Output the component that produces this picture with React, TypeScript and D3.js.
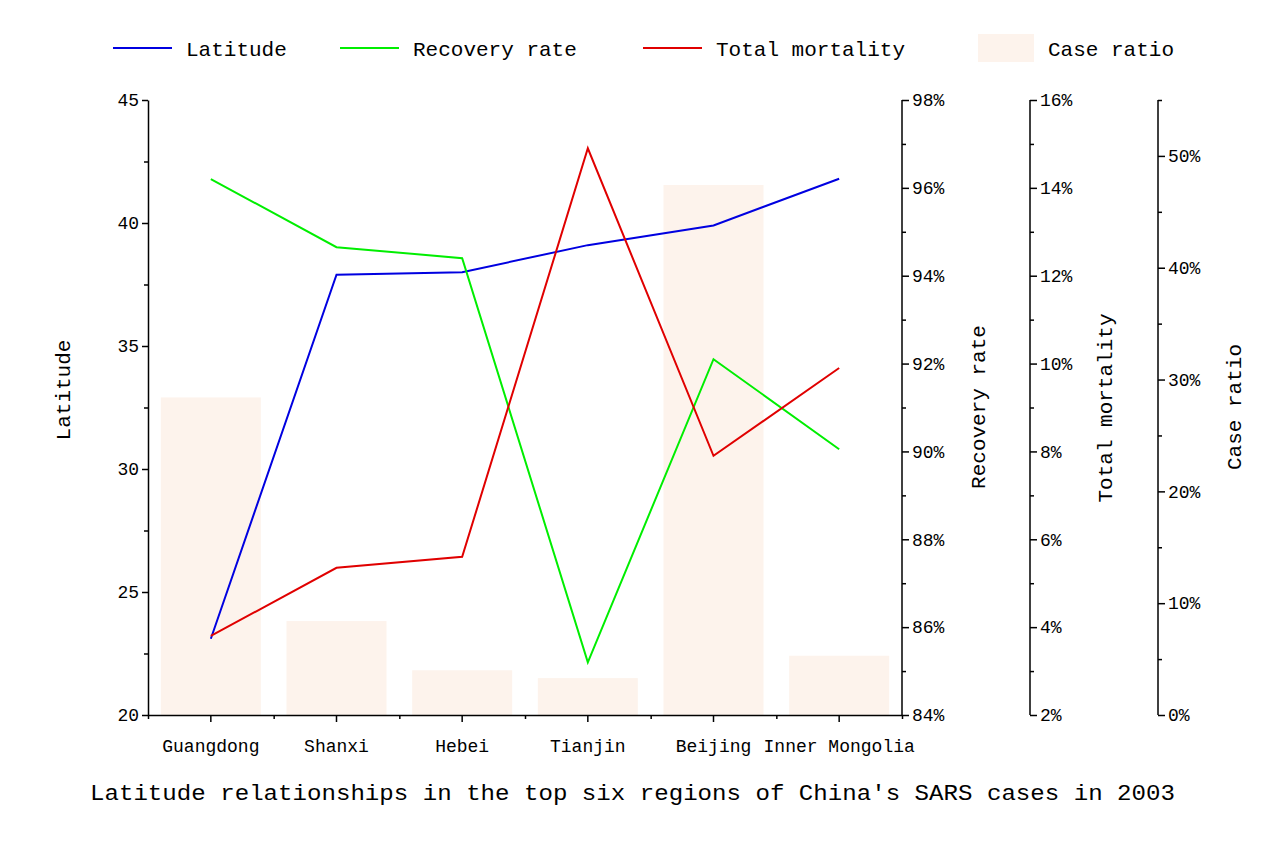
import React, {useEffect, useRef} from "react";
import * as d3 from "d3";

const regions = ["Guangdong", "Shanxi", "Hebei", "Tianjin", "Beijing", "Inner Mongolia"]
const latitude = [23.1, 37.9, 38.0, 39.1, 39.9, 41.8]
const recoveryRate = [96.2, 94.65, 94.4, 85.2, 92.1, 90.05]
const totalMortality = [3.8, 5.35, 5.6, 14.9, 7.9, 9.9]
const caseRatio = [28.4, 8.4, 4.0, 3.3, 47.4, 5.3]

const FONT = "'Liberation Mono', 'DejaVu Sans Mono', monospace"

const App = () => {
    const svgRef = useRef(null)

    useEffect(() => {
        const svg = d3.select(svgRef.current)
        svg.selectAll("*").remove()
        const top = 100, bottom = 715, left = 148, right = 902

        const x = d3.scaleBand().domain(regions).range([left, right])
        const cx = (i: number) => (x(regions[i]) as number) + x.bandwidth() / 2
        const yLat = d3.scaleLinear().domain([20, 45]).range([bottom, top])
        const yRec = d3.scaleLinear().domain([84, 98]).range([bottom, top])
        const yMor = d3.scaleLinear().domain([2, 16]).range([bottom, top])
        const yCase = d3.scaleLinear().domain([0, 55]).range([bottom, top])

        // bars
        svg.append("g").selectAll("rect").data(caseRatio).join("rect")
            .attr("x", (d, i) => cx(i) - 50)
            .attr("width", 100)
            .attr("y", d => yCase(d))
            .attr("height", d => bottom - yCase(d))
            .attr("fill", "#fdf3ec")

        const line = (scale: d3.ScaleLinear<number, number>) => d3.line<number>()
            .x((d, i) => cx(i)).y(d => scale(d))
        const series: [number[], d3.ScaleLinear<number, number>, string][] = [
            [latitude, yLat, "#0000e0"],
            [recoveryRate, yRec, "#00ee00"],
            [totalMortality, yMor, "#e00000"],
        ]
        series.forEach(([data, scale, color]) => {
            svg.append("path").datum(data).attr("d", line(scale) as any)
                .attr("fill", "none").attr("stroke", color).attr("stroke-width", 2)
        })

        const styleAxis = (g: any) => {
            g.selectAll("path,line").attr("stroke", "#000").attr("stroke-width", 1.5)
            g.selectAll("text").attr("font-family", FONT).attr("font-size", 18).attr("fill", "#000")
        }

        // left axis
        const gl = svg.append("g").attr("transform", `translate(${left},0)`)
        gl.call(d3.axisLeft(yLat).tickValues(d3.range(20, 46, 5)).tickSize(6).tickSizeOuter(0)).call(styleAxis)
        gl.append("g").call(d3.axisLeft(yLat).tickValues(d3.range(22.5, 45, 5)).tickSize(4).tickFormat(() => ""))
            .call(styleAxis).select(".domain").remove()

        const rightAxis = (xPos: number, scale: any, major: number[], minor: number[]) => {
            const g = svg.append("g").attr("transform", `translate(${xPos},0)`)
            g.call(d3.axisRight(scale).tickValues(major).tickSize(7).tickSizeOuter(0).tickFormat((d: any) => `${d}%`)).call(styleAxis)
            g.append("g").call(d3.axisRight(scale).tickValues(minor).tickSize(4).tickFormat(() => ""))
                .call(styleAxis).select(".domain").remove()
            g.select(".domain").attr("d", `M0,${bottom}V${top}`)
        }
        rightAxis(right, yRec, d3.range(84, 99, 2), d3.range(85, 98, 2))
        rightAxis(1030, yMor, d3.range(2, 17, 2), d3.range(3, 16, 2))
        rightAxis(1158, yCase, d3.range(0, 51, 10), d3.range(5, 56, 10))

        // bottom axis
        const gb = svg.append("g").attr("transform", `translate(0,${bottom})`)
        gb.call(d3.axisBottom(x).tickSize(7).tickSizeOuter(0)).call(styleAxis)
        gb.selectAll(".tick text").attr("dy", "1.5em")
        gb.append("g").call(d3.axisBottom(d3.scaleLinear().domain([0, 6]).range([left, right]))
            .tickValues(d3.range(0, 7)).tickSize(4).tickFormat(() => ""))
            .call(styleAxis).select(".domain").remove()

        const label = (t: string, xx: number, yy: number, rot: boolean, size = 21) => {
            svg.append("text").text(t).attr("font-family", FONT).attr("font-size", size)
                .attr("text-anchor", "middle")
                .attr("transform", `translate(${xx},${yy})${rot ? " rotate(-90)" : ""}`)
        }
        label("Latitude", 70, 390, true)
        label("Recovery rate", 985, 407, true)
        label("Total mortality", 1112, 408, true)
        label("Case ratio", 1241, 407, true)
        svg.append("text").text("Latitude relationships in the top six regions of China's SARS cases in 2003")
            .attr("font-family", FONT).attr("font-size", 22).attr("x", 90).attr("y", 800)
            .attr("textLength", 1085).attr("lengthAdjust", "spacingAndGlyphs")

        // legend
        const legend: [string, string, number][] = [
            ["Latitude", "#0000e0", 113], ["Recovery rate", "#00ee00", 340], ["Total mortality", "#e00000", 643]]
        legend.forEach(([t, c, lx]) => {
            svg.append("line").attr("x1", lx).attr("x2", lx + 59).attr("y1", 48).attr("y2", 48)
                .attr("stroke", c).attr("stroke-width", 2)
            svg.append("text").text(t).attr("x", lx + 73).attr("y", 56)
                .attr("font-family", FONT).attr("font-size", 21)
        })
        svg.append("rect").attr("x", 978).attr("y", 34).attr("width", 56).attr("height", 28).attr("fill", "#fdf3ec")
        svg.append("text").text("Case ratio").attr("x", 1048).attr("y", 56)
            .attr("font-family", FONT).attr("font-size", 21)
    }, [])

    return <svg ref={svgRef} width={1287} height={858}
                style={{display: "block", background: "#fff", position: "absolute", left: 0, top: 0}}/>
}

export default App
